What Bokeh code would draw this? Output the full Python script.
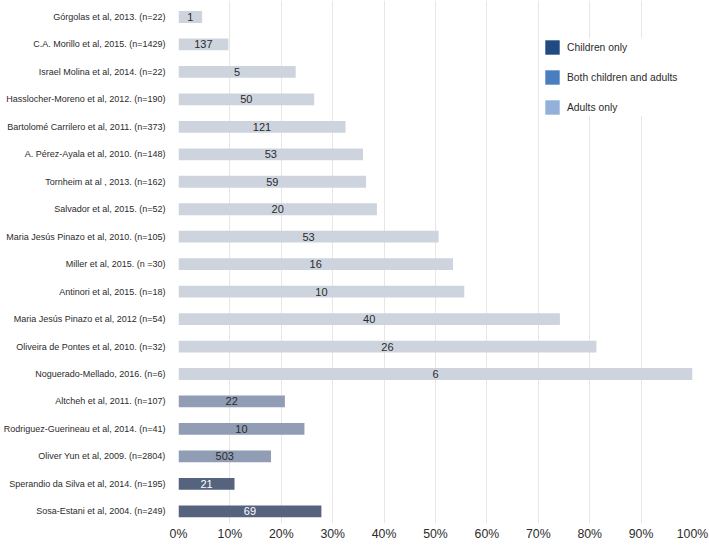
from bokeh.plotting import figure
from bokeh.models import (ColumnDataSource, Range1d, FixedTicker, NumeralTickFormatter,
                          Legend, LegendItem)
from bokeh.embed import file_html
from bokeh.resources import INLINE
from bokeh.core.properties import value

studies = [
    "Górgolas et al, 2013. (n=22)",
    "C.A. Morillo et al, 2015. (n=1429)",
    "Israel Molina et al, 2014. (n=22)",
    "Hasslocher-Moreno et al, 2012. (n=190)",
    "Bartolomé Carrilero et al, 2011. (n=373)",
    "A. Pérez-Ayala et al, 2010. (n=148)",
    "Tornheim at al , 2013. (n=162)",
    "Salvador et al, 2015. (n=52)",
    "Maria Jesús Pinazo et al, 2010. (n=105)",
    "Miller et al, 2015. (n =30)",
    "Antinori et al, 2015. (n=18)",
    "Maria Jesús Pinazo et al, 2012 (n=54)",
    "Oliveira de Pontes et al, 2010. (n=32)",
    "Noguerado-Mellado, 2016. (n=6)",
    "Altcheh et al, 2011. (n=107)",
    "Rodriguez-Guerineau et al, 2014. (n=41)",
    "Oliver Yun et al, 2009. (n=2804)",
    "Sperandio da Silva et al, 2014. (n=195)",
    "Sosa-Estani et al, 2004. (n=249)",
]
percent = [4.6, 9.7, 22.8, 26.4, 32.5, 35.9, 36.5, 38.6, 50.6, 53.4, 55.6,
           74.2, 81.3, 100.0, 20.7, 24.5, 18.0, 10.9, 27.8]
counts = ["1", "137", "5", "50", "121", "53", "59", "20", "53", "16", "10",
          "40", "26", "6", "22", "10", "503", "21", "69"]
groups = ["Adults only"] * 14 + ["Both children and adults"] * 3 + ["Children only"] * 2

group_names = ["Children only", "Both children and adults", "Adults only"]
bar_colors = {"Children only": "#55637e", "Both children and adults": "#909db5",
              "Adults only": "#cdd4de"}
legend_colors = {"Children only": "#1f4a82", "Both children and adults": "#4a7fbf",
                 "Adults only": "#93b1d8"}
label_colors = {"Children only": "#ffffff", "Both children and adults": "#2b2b2b",
                "Adults only": "#2b2b2b"}

n = len(studies)
ypos = [n - 1 - i for i in range(n)]
frac = [v / 100.0 for v in percent]
src = ColumnDataSource(dict(
    y=ypos, right=frac, mid=[f / 2 for f in frac], txt=counts,
    fill=[bar_colors[g] for g in groups],
    tcol=[label_colors[g] for g in groups],
))

p = figure(width=708, height=547, output_backend="svg", toolbar_location=None,
           x_range=Range1d(0, 1), y_range=Range1d(-0.444, n - 1 + 0.601),
           min_border_left=178, min_border_right=16, min_border_top=0,
           min_border_bottom=24)
p.outline_line_color = None
p.background_fill_color = "white"

p.hbar(y="y", left=0, right="right", height=0.43, fill_color="fill",
       line_color=None, source=src)
p.text(x="mid", y="y", text="txt", text_color="tcol", text_align="center",
       text_baseline="middle", text_font=value("Liberation Sans"),
       text_font_size="11px", source=src)

# x axis
p.xaxis.ticker = FixedTicker(ticks=[i / 10 for i in range(11)])
p.xaxis.formatter = NumeralTickFormatter(format="0%")
p.xaxis.axis_line_color = None
p.xaxis.major_tick_line_color = None
p.xaxis.minor_tick_line_color = None
p.xaxis.major_label_standoff = -3
p.xaxis.major_label_text_font = "Liberation Sans"
p.xaxis.major_label_text_font_size = "12.3px"
p.xaxis.major_label_text_color = "#2b2b2b"

# y axis
p.yaxis.ticker = FixedTicker(ticks=ypos)
p.yaxis.major_label_overrides = {y: s for y, s in zip(ypos, studies)}
p.yaxis.axis_line_color = None
p.yaxis.major_tick_line_color = None
p.yaxis.minor_tick_line_color = None
p.yaxis.major_label_standoff = 7
p.yaxis.major_label_text_font = "Liberation Sans"
p.yaxis.major_label_text_font_size = "9px"
p.yaxis.major_label_text_color = "#2b2b2b"

p.ygrid.grid_line_color = None
p.xgrid.grid_line_color = "#e6e6e6"
p.xgrid.grid_line_width = 1

# legend (swatch renderers placed outside the visible range)
items = []
for g in group_names:
    r = p.hbar(y=[-10], left=[0], right=[0], height=0.4,
               fill_color=legend_colors[g], line_color=None)
    items.append(LegendItem(label=g, renderers=[r]))
legend = Legend(items=items, location=(365, 407), padding=4, margin=0,
                glyph_width=18, glyph_height=18, label_height=18, spacing=12,
                label_standoff=6, border_line_color=None,
                background_fill_color="white", background_fill_alpha=1,
                label_text_font="Liberation Sans", label_text_font_size="10.3px",
                label_text_color="#2b2b2b")
p.add_layout(legend)

open("out.html", "w").write(file_html(p, INLINE))
